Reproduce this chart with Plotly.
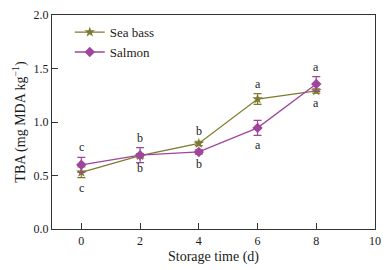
import plotly.graph_objects as go

days = [0, 2, 4, 6, 8]
sea_bass = [0.53, 0.685, 0.80, 1.215, 1.29]
sea_bass_err = [0.05, 0.02, 0.02, 0.05, 0.02]
salmon = [0.60, 0.69, 0.72, 0.945, 1.355]
salmon_err = [0.07, 0.07, 0.02, 0.07, 0.07]
sea_bass_letters = ["c", "b", "b", "a", "a"]
salmon_letters = ["c", "b", "b", "a", "a"]
# whether the sea bass letter goes above (True) or below (False)
sea_bass_above = [False, False, True, True, False]

olive = "#7d7a30"
magenta = "#a0459c"
font = "Liberation Serif"
txt = "#1a1a1a"

fig = go.Figure()
fig.add_trace(go.Scatter(
    x=days, y=sea_bass, name="Sea bass", mode="lines+markers",
    line=dict(color=olive, width=1.3),
    marker=dict(symbol="star", size=8, color=olive),
    error_y=dict(type="data", array=sea_bass_err, color=olive, thickness=1.2, width=4),
))
fig.add_trace(go.Scatter(
    x=days, y=salmon, name="Salmon", mode="lines+markers",
    line=dict(color=magenta, width=1.3),
    marker=dict(symbol="diamond", size=8, color=magenta),
    error_y=dict(type="data", array=salmon_err, color=magenta, thickness=1.2, width=4),
))

for i, d in enumerate(days):
    sb_top = sea_bass[i] + sea_bass_err[i]
    sb_bot = sea_bass[i] - sea_bass_err[i]
    sa_top = salmon[i] + salmon_err[i]
    sa_bot = salmon[i] - salmon_err[i]
    if sea_bass_above[i]:
        pairs = [(sb_top, sea_bass_letters[i], "bottom"), (sa_bot, salmon_letters[i], "top")]
    else:
        pairs = [(sb_bot, sea_bass_letters[i], "top"), (sa_top, salmon_letters[i], "bottom")]
    for yv, t, ya in pairs:
        fig.add_annotation(x=d, y=yv, text=t, yanchor=ya, xanchor="center",
                           showarrow=False, yshift=1 if ya == "bottom" else -1,
                           font=dict(family=font, size=12, color=txt))

fig.update_layout(
    width=387, height=270,
    margin=dict(l=52, r=12, t=15, b=41),
    paper_bgcolor="white", plot_bgcolor="white",
    font=dict(family=font, size=12, color=txt),
    showlegend=True,
    legend=dict(x=0.055, y=0.99, xanchor="left", yanchor="top",
                bgcolor="rgba(0,0,0,0)", font=dict(family=font, size=13, color=txt),
                tracegroupgap=0, itemwidth=30),
    xaxis=dict(range=[-1, 10], tickvals=[0, 2, 4, 6, 8, 10],
               ticks="inside", ticklen=6, tickcolor="#333",
               showline=True, linecolor="#333", linewidth=1.3, mirror=True,
               showgrid=False, zeroline=False, automargin=False,
               title=dict(text="Storage time (d)", font=dict(family=font, size=14, color=txt), standoff=4),
               tickfont=dict(family=font, size=12, color=txt)),
    yaxis=dict(range=[0, 2.0], tickvals=[0, 0.5, 1.0, 1.5, 2.0],
               tickformat=".1f",
               ticks="inside", ticklen=6, tickcolor="#333",
               showline=True, linecolor="#333", linewidth=1.3, mirror=True,
               showgrid=False, zeroline=False, automargin=False,
               title=dict(text="TBA (mg MDA kg<sup>−1</sup>)", font=dict(family=font, size=14, color=txt), standoff=4),
               tickfont=dict(family=font, size=12, color=txt)),
)

fig.write_html("out.html", config={"displayModeBar": False},
               post_script="document.body.style.margin='0px';")
